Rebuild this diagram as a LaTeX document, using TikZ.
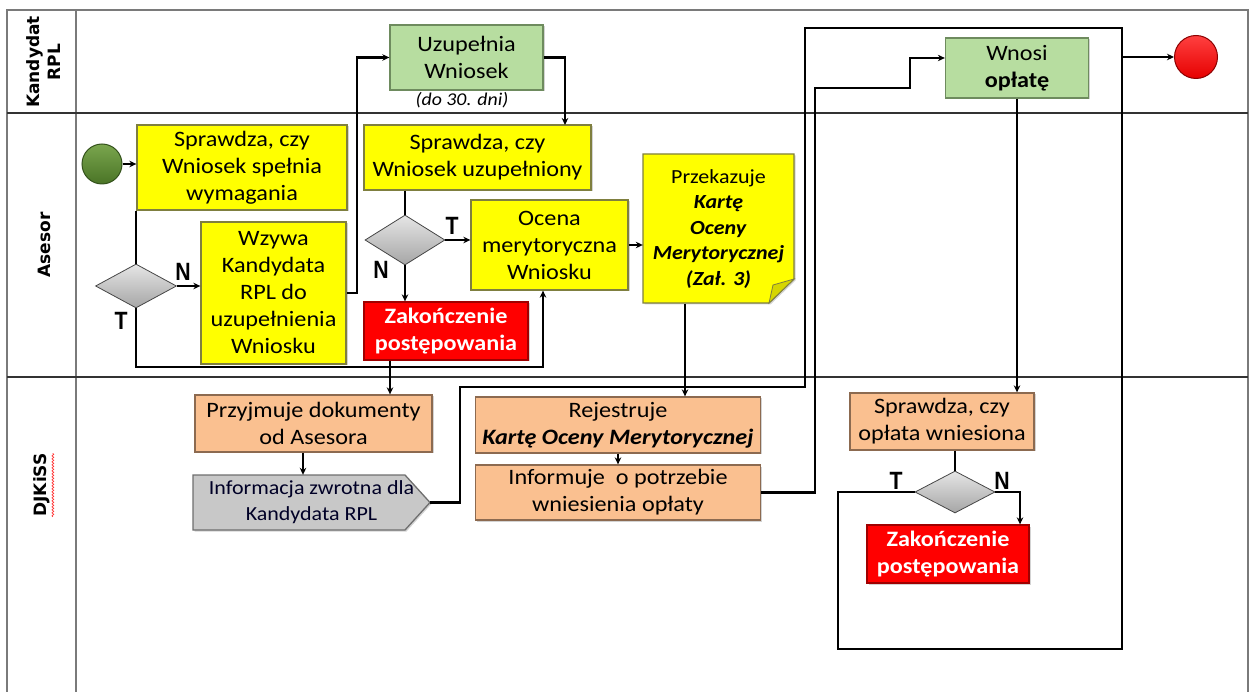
\documentclass[tikz,border=0pt]{standalone}
\usepackage{fontspec}
\setmainfont{Carlito}[FakeStretch=1.1]
\newfontfamily\lanefont{DejaVu Sans}
\newfontfamily\tnfont{Liberation Sans}[FakeStretch=0.85]
\usetikzlibrary{shadows,decorations.pathmorphing,arrows.meta,calc,shapes.geometric}
\definecolor{yfill}{HTML}{FFFF00}
\definecolor{yline}{HTML}{7F7F3F}
\definecolor{yfold}{HTML}{D6D600}
\definecolor{gfill}{HTML}{B7DDA0}
\definecolor{gline}{HTML}{6E8B5E}
\definecolor{ofill}{HTML}{FAC090}
\definecolor{oline}{HTML}{8C6A50}
\definecolor{pfill}{HTML}{C8C8C8}
\definecolor{pline}{HTML}{6E6E6E}
\definecolor{rline}{HTML}{A00000}
\definecolor{sgA}{HTML}{7AA64E}
\definecolor{sgB}{HTML}{4A7426}
\definecolor{sgL}{HTML}{34521C}
\definecolor{framec}{HTML}{7A7A7A}
\begin{document}
\begin{tikzpicture}[x=1pt,y=-1pt,
  base/.style={draw, line width=1.3pt, align=center, inner sep=1pt,
    font=\fontsize{22}{27}\selectfont,
    drop shadow={shadow xshift=1.5pt, shadow yshift=-1.5pt, opacity=0.35}},
  ybox/.style={base, fill=yfill, draw=yline},
  gbox/.style={base, fill=gfill, draw=gline},
  obox/.style={base, fill=ofill, draw=oline},
  rbox/.style={base, fill=red, draw=rline, text=white,
    font=\bfseries\fontsize{22}{27}\selectfont},
  dec/.style={diamond, draw=gray!55!black, line width=0.8pt, inner sep=0pt,
    top color=gray!20, bottom color=gray!70},
  line/.style={line width=2.3pt},
  flow/.style={line width=2.3pt, -{Stealth[length=7pt,width=6.5pt]}},
  lbl/.style={font=\tnfont\bfseries\fontsize{25}{25}\selectfont, inner sep=0pt},
  lanelbl/.style={font=\lanefont\bfseries\fontsize{17}{21}\selectfont, align=center, rotate=90, inner sep=0pt},
  framel/.style={draw=framec, line width=1.8pt},
  lanel/.style={draw=black!80, line width=1.3pt}
]
\useasboundingbox (0,0) rectangle (1256,692);
% swimlane frame
\draw[framel] (7,692) -- (7,10) -- (1248,10) -- (1248,692);
\draw[framel] (76,10) -- (76,692);
\draw[lanel] (7,113) -- (1248,113);
\draw[lanel] (7,377) -- (1248,377);
\node[lanelbl] (l1) at (44,62) {Kandydat\\RPL};
\node[lanelbl] (l2) at (44,245) {Asesor};
\node[lanelbl] (l3) at (42,485) {DJKiSS};
\draw[red!80, line width=0.7pt, decorate, decoration={snake, amplitude=0.9pt, segment length=3pt}]
  ([xshift=2.5pt]l3.south west) -- ([xshift=2.5pt]l3.south east);

% Asesor lane
\node[circle, minimum size=40pt, draw=sgL, line width=1pt, top color=sgA, bottom color=sgB] (st) at (102,164) {};
\node[ybox, minimum width=210pt, minimum height=85pt] (s1) at (242,167.5) {Sprawdza, czy\\Wniosek spełnia\\wymagania};
\node[dec, minimum width=81pt, minimum height=44pt] (d1) at (136,286) {};
\node[ybox, minimum width=145pt, minimum height=142pt] (wz) at (273.5,293) {Wzywa\\Kandydata\\RPL do\\uzupełnienia\\Wniosku};
\node[ybox, minimum width=227pt, minimum height=65pt] (s2) at (477.5,157.5) {Sprawdza, czy\\Wniosek uzupełniony};
\node[dec, minimum width=80pt, minimum height=50pt] (d2) at (405,240) {};
\node[ybox, minimum width=157pt, minimum height=90pt] (oc) at (549.5,245) {Ocena\\merytoryczna\\Wniosku};
\node[rbox, minimum width=164pt, minimum height=58pt] (z1) at (446,331) {Zakończenie\\postępowania};
% note with folded corner
\path[fill=yfill, draw=yline, line width=1.3pt, drop shadow={shadow xshift=1.5pt, shadow yshift=-1.5pt, opacity=0.35}]
  (643,154) -- (794,154) -- (794,279) -- (769,303) -- (643,303) -- cycle;
\path[fill=yfold, draw=yline, line width=0.8pt] (794,279) -- (773,285) -- (769,303) -- cycle;
\node[align=center, minimum width=151pt, minimum height=149pt, inner sep=0pt,
  font=\fontsize{20}{25.5}\selectfont] (nt) at (718.5,229)
  {Przekazuje\\\textbf{\textit{Kartę}}\\\textbf{\textit{Oceny}}\\\textbf{\textit{Merytorycznej}}\\\textbf{\textit{(Zał. 3)}}};

% Kandydat lane
\node[gbox, minimum width=153pt, minimum height=65pt] (uz) at (466.5,57.5) {Uzupełnia\\Wniosek};
\node[font=\itshape\fontsize{18}{20}\selectfont, inner sep=0pt] (dn) at (462,100) {(do 30. dni)};
\node[gbox, minimum width=143pt, minimum height=60pt] (wn) at (1017,68) {Wnosi\\\textbf{opłatę}};
\node[circle, minimum size=43pt, draw=red!55!black, line width=1pt, top color=red!75!white, bottom color=red!90!black] (en) at (1196,57) {};

% DJKiSS lane
\node[obox, minimum width=237pt, minimum height=57pt] (pr) at (313.5,423.5) {Przyjmuje dokumenty\\od Asesora};
\path[fill=pfill, draw=pline, line width=1.3pt, drop shadow={shadow xshift=1.5pt, shadow yshift=-1.5pt, opacity=0.35}]
  (193,475) -- (405,475) -- (430,502.5) -- (405,530) -- (193,530) -- cycle;
\node[align=center, minimum width=237pt, minimum height=55pt, inner sep=0pt,
  font=\fontsize{20}{26}\selectfont, text=black!85!blue] (inf) at (311.5,502.5) {Informacja zwrotna dla\\Kandydata RPL};
\node[obox, minimum width=285pt, minimum height=56pt] (rj) at (618,425) {Rejestruje\\\textbf{\textit{Kartę Oceny Merytorycznej}}};
\node[obox, minimum width=285pt, minimum height=55pt] (if) at (618,492.5) {Informuje~ o potrzebie\\wniesienia opłaty};
\node[obox, minimum width=184pt, minimum height=57pt] (s3) at (942,421.5) {Sprawdza, czy\\opłata wniesiona};
\node[dec, minimum width=80pt, minimum height=42pt] (d3) at (955,492) {};
\node[rbox, minimum width=162pt, minimum height=58pt] (z2) at (948,554) {Zakończenie\\postępowania};

% helper coordinates
\coordinate (c1) at (543,367);
\coordinate (c2) at (565,125);
\coordinate (k1) at (685,0);
\coordinate (k2) at (390,0);
\coordinate (k3) at (303,0);
\coordinate (w1) at (910,58);
\coordinate (k4) at (1020,0);

% connectors
\draw[flow] (st) -- (s1.west |- st);
\draw[line] (s1.south west -| d1.north) -- (d1.north);
\draw[flow] (d1.east) -- (d1.east -| wz.west);
\draw[flow] (d1.south) |- (c1) -- (c1 |- oc.south);
\draw[flow] (wz.east) -- ++(10,0) |- (uz.west);
\draw[flow] (uz.east) -| (c2);
\draw[line] (s2.south -| d2.north) -- (d2.north);
\draw[flow] (d2.east) -- (d2.east -| oc.west);
\draw[flow] (d2.south) -- (d2.south |- z1.north);
\draw[flow] (oc.east) -- (oc.east -| nt.west);
\draw[flow] (z1.south -| k2) -- (pr.north -| k2);
\draw[flow] (pr.south -| k3) -- (inf.north -| k3);
\draw[flow] (nt.south -| k1) -- (rj.north -| k1);
\draw[flow] (rj.south) -- (if.north);
\draw[line] (inf.east) -| (460,387) -| (805,28) -| (1122,57);
\draw[flow] (if.east) -| (815,88) -| (w1) -- (w1 -| wn.west);
\draw[flow] (wn.south) -- (wn.south |- s3.north);
\draw[line] (s3.south -| d3.north) -- (d3.north);
\draw[flow] (d3.east) -| (z2.north -| k4);
\draw[flow] (d3.west) -| (838,649) -| (1122,57) -- (en.west);

% labels
\node[lbl] (n1) at (183,272) {N};
\node[lbl] (t1) at (121,321) {T};
\node[lbl] (t2) at (452,226) {T};
\node[lbl] (n2) at (381,270) {N};
\node[lbl] (t3) at (896,481) {T};
\node[lbl] (n3) at (1002,481) {N};
\end{tikzpicture}
\end{document}
